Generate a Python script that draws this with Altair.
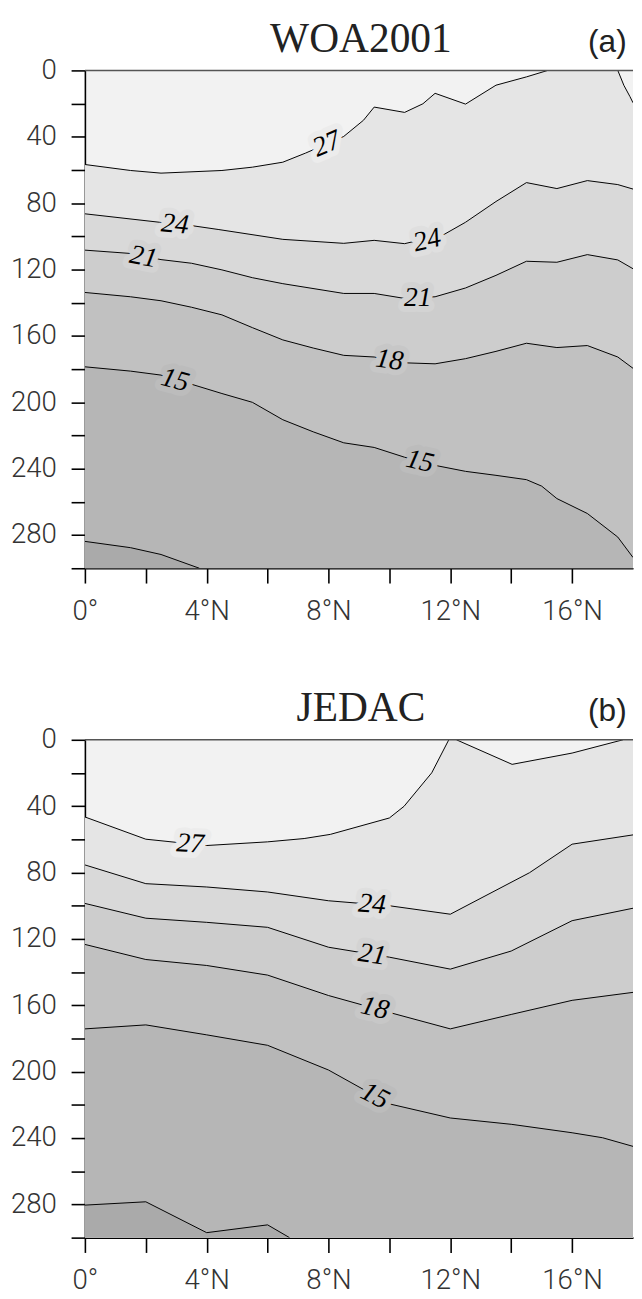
import altair as alt
import pandas as pd

# ---------------- Panel (a): WOA2001 ----------------
A_LAT_27 = [0, 1.5, 2.5, 4.5, 5.5, 6.5, 7.25, 8.5, 9.15, 9.5, 10.5, 11.1, 11.5, 12.5, 13.5, 14.5, 15.2, 17.5, 17.7, 17.9, 18]
A_DEP_27 = [56.7, 60.3, 61.9, 60.3, 58.3, 55.3, 49.8, 39.8, 30.0, 22.1, 25.3, 20.1, 13.8, 20.3, 8.9, 3.9, 0, 0, 9.0, 15.8, 19.5]
A_SEG_27 = [1] * 17 + [2] * 4

A_LAT_24 = [0, 2.45, 3.5, 4.4, 6.5, 8.5, 9.5, 10.5, 11.8, 12.5, 13.5, 14.5, 15.5, 16.5, 17.5, 18]
A_DEP_24 = [86.4, 91.5, 93.5, 95.9, 101.8, 104.2, 102.4, 104.4, 98.8, 91.5, 79.0, 67.6, 71.2, 66.4, 68.8, 71.5]

A_LAT_21 = [0, 1.5, 2.5, 3.5, 4.5, 5.5, 6.5, 8.5, 9.5, 10.5, 11.5, 12.5, 13.5, 14.5, 15.5, 16.5, 17.5, 18]
A_DEP_21 = [108.3, 110.3, 114.0, 116.2, 120.2, 124.9, 128.5, 134.4, 134.4, 137.4, 136.4, 131.1, 123.5, 115.0, 115.6, 111.0, 114.2, 119.5]

A_LAT_18 = [0, 1.5, 2.5, 3.5, 4.5, 5.5, 6.5, 7.5, 8.5, 9.5, 10.5, 11.5, 12.5, 13.5, 14.5, 15.5, 16.5, 17.5, 18]
A_DEP_18 = [133.8, 136.4, 138.8, 142.7, 147.3, 155.0, 162.4, 167.3, 171.7, 172.7, 176.2, 176.8, 173.7, 169.3, 164.4, 167.0, 165.8, 172.7, 179.5]

A_LAT_15 = [0, 1.5, 2.5, 3.5, 4.5, 5.5, 6.5, 7.5, 8.5, 9.5, 10.5, 11.5, 12.5, 13.5, 14.5, 15.0, 15.5, 16.5, 17.5, 18]
A_DEP_15 = [178.6, 181.2, 183.6, 189.1, 194.7, 200.0, 210.5, 217.8, 224.4, 227.2, 233.1, 238.0, 241.6, 244.0, 246.6, 250.5, 258.0, 267.0, 281.2, 293.5]

A_LAT_12 = [0, 1.5, 2.5, 3.76]
A_DEP_12 = [283.8, 287.6, 291.7, 300]

A_LBL_TEXT = ["27", "24", "24", "21", "21", "18", "15", "15"]
A_LBL_LAT = [7.95, 2.96, 11.24, 1.92, 10.93, 10.0, 2.96, 11.0]
A_LBL_DEP = [44.5, 92.9, 102.6, 112.5, 137.4, 174.7, 186.8, 235.7]
A_LBL_ANGLE = [337, 5, 347, 10, 0, 8, 15, 13]

# ---------------- Panel (b): JEDAC ----------------
B_LAT_27 = [0, 2, 4, 6, 7.2, 8.06, 10.0, 10.48, 11.39, 11.95, 12.2, 14.03, 16.0, 17.67, 18]
B_DEP_27 = [46.5, 59.9, 63.7, 61.5, 59.5, 57.0, 47.1, 40.1, 19.9, 0, 0, 14.8, 8.0, 0, 0]
B_SEG_27 = [1] * 10 + [2] * 4 + [0]

B_LAT_24 = [0, 2, 4, 6, 8, 10, 12, 14.6, 16, 18]
B_DEP_24 = [75.4, 86.7, 88.7, 91.7, 97.0, 100.0, 105.1, 80.1, 62.9, 57.3]

B_LAT_21 = [0, 2, 4, 6, 8, 10, 12, 14, 16, 18]
B_DEP_21 = [98.6, 107.5, 110.0, 113.0, 125.0, 131.0, 138.2, 127.3, 109.0, 101.5]

B_LAT_18 = [0, 2, 4, 6, 8, 10, 12, 14, 16, 18]
B_DEP_18 = [123.3, 132.4, 136.0, 141.8, 154.1, 164.3, 174.2, 165.5, 157.0, 152.2]

B_LAT_15 = [0, 2, 4, 6, 8, 10, 12, 14, 16, 17, 18]
B_DEP_15 = [174.2, 171.8, 177.8, 184.1, 199.0, 219.4, 227.9, 231.7, 236.8, 239.8, 245.0]

B_LAT_12 = [0, 2, 4, 6, 6.72]
B_DEP_12 = [280.4, 278.4, 297.0, 292.3, 300]

B_LBL_TEXT = ["27", "24", "21", "18", "15"]
B_LBL_LAT = [3.46, 9.43, 9.43, 9.52, 9.52]
B_LBL_DEP = [62.9, 99.3, 129.6, 161.9, 214.8]
B_LBL_ANGLE = [3, 4, 8, 14, 27]

# ---------------- axes ----------------
LAT_TICKS = [0, 2, 4, 6, 8, 10, 12, 14, 16]
LAT_TICK_LABELS = ["0°", "", "4°N", "", "8°N", "", "12°N", "", "16°N"]
DEPTH_TICKS = [0, 20, 40, 60, 80, 100, 120, 140, 160, 180, 200, 220, 240, 260, 280, 300]
DEPTH_TICK_LABELS = ["0", "", "40", "", "80", "", "120", "", "160", "", "200", "", "240", "", "280", ""]

TITLES = ["WOA2001", "JEDAC"]
TAGS = ["(a)", "(b)"]

LEVELS = [27, 24, 21, 18, 15, 12]
BAND_FILL = {27: "#e5e5e5", 24: "#d9d9d9", 21: "#cdcdcd", 18: "#c1c1c1", 15: "#b6b6b6", 12: "#aaaaaa"}
HALO = {"27": "#ececec", "24": "#dfdfdf", "21": "#d3d3d3", "18": "#c7c7c7", "15": "#bcbcbc"}

W, H = 556, 505
LABEL_FONT = "Roboto"


def js_list(items):
    return "[" + ",".join("'" + str(s) + "'" if isinstance(s, str) else str(s) for s in items) + "]"


x_expr = f"{js_list(LAT_TICK_LABELS)}[indexof({js_list(LAT_TICKS)}, datum.value)]"
y_expr = f"{js_list(DEPTH_TICK_LABELS)}[indexof({js_list(DEPTH_TICKS)}, datum.value)]"

X = alt.X("lat:Q", scale=alt.Scale(domain=[0, 18], nice=False, zero=False),
          axis=alt.Axis(values=LAT_TICKS, labelExpr=x_expr, title=None, grid=False,
                        tickSize=15, tickWidth=1.6, tickColor="black",
                        domainColor="black", domainWidth=1.6,
                        labelFont=LABEL_FONT, labelFontWeight=300, labelFontSize=28,
                        labelColor="#333", labelPadding=15, labelFlush=False))
Y = alt.Y("depth:Q", scale=alt.Scale(domain=[0, 300], reverse=True, nice=False, zero=False),
          axis=alt.Axis(values=DEPTH_TICKS, labelExpr=y_expr, title=None, grid=False,
                        tickSize=14, tickWidth=1.6, tickColor="black",
                        domainColor="black", domainWidth=1.6,
                        labelFont=LABEL_FONT, labelFontWeight=300, labelFontSize=28,
                        labelColor="#333", labelPadding=15, labelFlush=False))


def panel(lines, labels, title, tag):
    layers = []
    for lev in LEVELS:
        lat, dep, seg = lines[lev]
        df = pd.DataFrame({"lat": lat, "depth": dep, "seg": seg})
        layers.append(
            alt.Chart(df).mark_area(color=BAND_FILL[lev], clip=True)
            .encode(x=X, y=Y, y2=alt.datum(300))
        )
    for lev in LEVELS:
        lat, dep, seg = lines[lev]
        df = pd.DataFrame({"lat": lat, "depth": dep, "seg": seg})
        layers.append(
            alt.Chart(df).transform_filter("datum.seg > 0")
            .mark_line(color="black", strokeWidth=1, clip=True)
            .encode(x=X, y=Y, detail="seg:N")
        )
    txt, llat, ldep, lang = labels
    ldf = pd.DataFrame({"lat": llat, "depth": ldep, "text": txt, "angle": lang})
    halo_scale = alt.Scale(domain=list(HALO.keys()), range=list(HALO.values()))
    layers.append(
        alt.Chart(ldf).mark_text(font="Liberation Serif", fontStyle="italic", fontSize=28,
                                 strokeWidth=12, strokeJoin="round", align="center", baseline="middle")
        .encode(x=X, y=Y, text="text:N", angle=alt.Angle("angle:Q", scale=None),
                stroke=alt.Stroke("text:N", scale=halo_scale, legend=None),
                fill=alt.Fill("text:N", scale=halo_scale, legend=None))
    )
    layers.append(
        alt.Chart(ldf).mark_text(font="Liberation Serif", fontStyle="italic", fontSize=28,
                                 color="black", align="center", baseline="middle")
        .encode(x=X, y=Y, text="text:N", angle=alt.Angle("angle:Q", scale=None))
    )
    # top frame line at the surface
    layers.append(
        alt.Chart(pd.DataFrame({"depth": [0]})).mark_rule(color="#555", strokeWidth=1.5)
        .encode(y=Y)
    )
    tdf = pd.DataFrame({"title": [title], "tag": [tag]})
    layers.append(
        alt.Chart(tdf).mark_text(font="Liberation Serif", fontSize=42, color="#222",
                                 align="center", baseline="alphabetic")
        .encode(text="title:N", x=alt.value(W / 2 + 2), y=alt.value(-19))
    )
    layers.append(
        alt.Chart(tdf).mark_text(font="Liberation Sans Narrow, Liberation Sans", fontSize=32,
                                 color="#222", align="center", baseline="alphabetic")
        .encode(text="tag:N", x=alt.value(530), y=alt.value(-19))
    )
    return alt.layer(*layers).properties(width=W, height=H)


lines_a = {
    27: (A_LAT_27, A_DEP_27, A_SEG_27),
    24: (A_LAT_24, A_DEP_24, [1] * len(A_LAT_24)),
    21: (A_LAT_21, A_DEP_21, [1] * len(A_LAT_21)),
    18: (A_LAT_18, A_DEP_18, [1] * len(A_LAT_18)),
    15: (A_LAT_15, A_DEP_15, [1] * len(A_LAT_15)),
    12: (A_LAT_12, A_DEP_12, [1] * len(A_LAT_12)),
}
lines_b = {
    27: (B_LAT_27, B_DEP_27, B_SEG_27),
    24: (B_LAT_24, B_DEP_24, [1] * len(B_LAT_24)),
    21: (B_LAT_21, B_DEP_21, [1] * len(B_LAT_21)),
    18: (B_LAT_18, B_DEP_18, [1] * len(B_LAT_18)),
    15: (B_LAT_15, B_DEP_15, [1] * len(B_LAT_15)),
    12: (B_LAT_12, B_DEP_12, [1] * len(B_LAT_12)),
}

pa = panel(lines_a, (A_LBL_TEXT, A_LBL_LAT, A_LBL_DEP, A_LBL_ANGLE), TITLES[0], TAGS[0])
pb = panel(lines_b, (B_LBL_TEXT, B_LBL_LAT, B_LBL_DEP, B_LBL_ANGLE), TITLES[1], TAGS[1])

chart = (
    alt.vconcat(pa, pb, spacing=174, bounds="flush")
    .properties(padding={"left": 2, "top": 1, "right": 0, "bottom": 0}, background="white")
    .configure_view(fill="#f2f2f2", stroke=None)
)

chart.save("out.html", embed_options={"renderer": "svg", "actions": False})
